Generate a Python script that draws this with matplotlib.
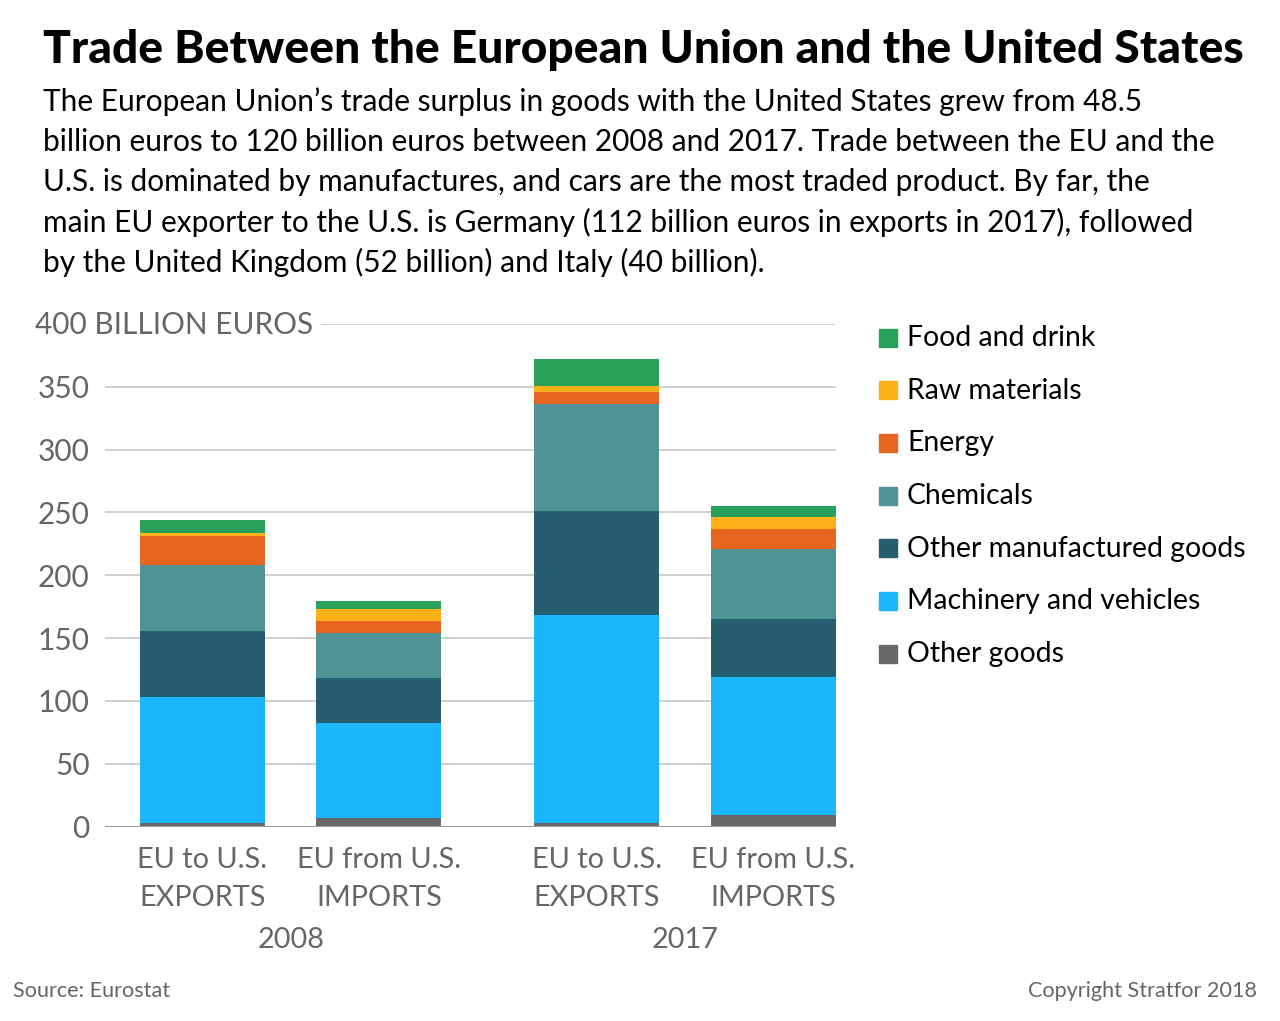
import matplotlib
matplotlib.use("Agg")
import matplotlib.pyplot as plt
import matplotlib.transforms as mtrans
import numpy as np

# ---- data ----
bar_line1 = ["EU to U.S.", "EU from U.S.", "EU to U.S.", "EU from U.S."]
bar_line2 = ["EXPORTS", "IMPORTS", "EXPORTS", "IMPORTS"]
years = ["2008", "2017"]
categories = ["Other goods", "Machinery and vehicles", "Other manufactured goods",
              "Chemicals", "Energy", "Raw materials", "Food and drink"]
other_goods = [2.8, 6.5, 3.0, 9.2]
machinery = [100.1, 75.7, 165.4, 109.6]
other_manuf = [52.8, 36.3, 83.1, 46.5]
chemicals = [52.8, 35.4, 85.2, 55.9]
energy = [22.6, 10.0, 9.3, 16.0]
raw_materials = [2.7, 9.3, 4.8, 8.8]
food_drink = [10.3, 6.6, 21.3, 9.3]
yticks = [0, 50, 100, 150, 200, 250, 300, 350]

colors = ["#686868", "#1bb6fb", "#245e6f", "#4f9397", "#e6661f", "#fdb01a", "#28a15b"]
series = [other_goods, machinery, other_manuf, chemicals, energy, raw_materials, food_drink]

W, H = 1280, 1021
fig = plt.figure(figsize=(W / 100, H / 100), dpi=100)
FONT = "Lato"
GRAY = "#666666"


def fx(x):
    return x / W


def fy(y):
    return 1 - y / H


ax_l, ax_r, ax_b, ax_t = 105, 836, 826.5, 324
ax = fig.add_axes([fx(ax_l), fy(ax_b), fx(ax_r) - fx(ax_l), fy(ax_t) - fy(ax_b)])

x = np.array([0.0, 1.0, 2.235, 3.235])
width = 0.708
bottom = np.zeros(4)
for vals, col, name in zip(series, colors, categories):
    ax.bar(x, vals, width, bottom=bottom, color=col, label=name, zorder=3, linewidth=0)
    bottom += np.array(vals)

ax.set_xlim(-0.552, 3.589)
ax.set_ylim(0, 400)
for s in ax.spines.values():
    s.set_visible(False)
ax.set_xticks([])
ax.set_yticks(yticks)
ax.set_yticklabels([str(t) for t in yticks], fontsize=21.5, color=GRAY, family=FONT)
ax.tick_params(axis="y", length=0, pad=11)
for t in yticks[1:]:
    ax.axhline(t, color="#c8c8c8", lw=1.2, zorder=1)
ax.axhline(0, color="#999999", lw=2.2, zorder=4)
ax.axhline(400, xmin=(322 - ax_l) / (ax_r - ax_l), xmax=(834 - ax_l) / (ax_r - ax_l), color="#c8c8c8", lw=1.2, zorder=1)
fig.text(fx(313), fy(325), "400 BILLION EUROS", ha="right", va="center", fontsize=21.4, color=GRAY, family=FONT)

# x labels
bt = mtrans.blended_transform_factory(ax.transData, fig.transFigure)
for xi, l1, l2 in zip(x, bar_line1, bar_line2):
    ax.text(xi, fy(860), l1, ha="center", va="center", fontsize=20.8, color=GRAY, family=FONT,
            transform=bt, clip_on=False)
    ax.text(xi, fy(898), l2, ha="center", va="center", fontsize=20.8, color=GRAY, family=FONT,
            transform=bt, clip_on=False)
for i, yr in enumerate(years):
    xc = (x[2 * i] + x[2 * i + 1]) / 2
    ax.text(xc, fy(940), yr, ha="center", va="center", fontsize=20.8, color=GRAY, family=FONT,
            transform=bt, clip_on=False)

# legend (manual)
leg_rows = [338, 390.5, 443, 496, 548.5, 601, 654]
for yy, name, col in zip(leg_rows, categories[::-1], colors[::-1]):
    fig.patches.append(plt.Rectangle((fx(879), fy(yy + 9)), fx(18), 18 / H, color=col,
                                     transform=fig.transFigure, figure=fig))
    fig.text(fx(907), fy(yy), name, ha="left", va="center", fontsize=20.4, color="black", family=FONT)

# title & subtitle
fig.text(fx(43), fy(50), "Trade Between the European Union and the United States", ha="left", va="center",
         fontsize=33.2, fontweight="black", family=FONT, color="black")
sub = ["The European Union\u2019s trade surplus in goods with the United States grew from 48.5",
       "billion euros to 120 billion euros between 2008 and 2017. Trade between the EU and the",
       "U.S. is dominated by manufactures, and cars are the most traded product. By far, the",
       "main EU exporter to the U.S. is Germany (112 billion euros in exports in 2017), followed",
       "by the United Kingdom (52 billion) and Italy (40 billion)."]
for i, line in enumerate(sub):
    fig.text(fx(43), fy(102 + 40 * i), line, ha="left", va="center", fontsize=21.5, family=FONT, color="black")

fig.text(fx(13), fy(991), "Source: Eurostat", ha="left", va="center", fontsize=15.6, color=GRAY, family=FONT)
fig.text(fx(1257), fy(991), "Copyright Stratfor 2018", ha="right", va="center", fontsize=15.6, color=GRAY, family=FONT)

fig.savefig("out.png", dpi=100, facecolor="white")
